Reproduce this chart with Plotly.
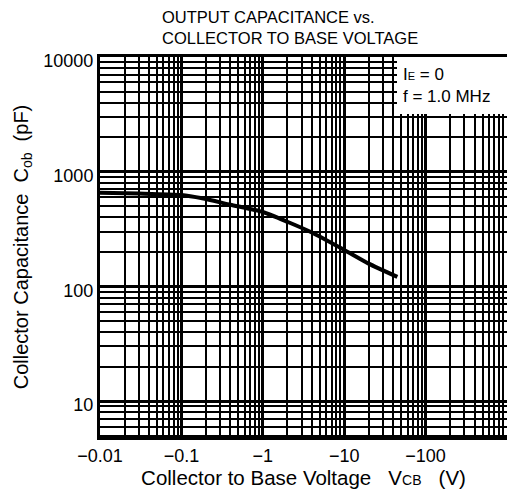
import plotly.graph_objects as go

# Data (magnitude of V_CB in volts; shown as negative values on the axis)
vcb = [0.01, 0.03, 0.1, 0.18, 0.4, 1, 2, 4, 10, 20, 45]
cob_pf = [655, 645, 626, 586, 515, 445, 366, 295, 208, 158, 121]

x_tickvals = [0.01, 0.1, 1, 10, 100]
x_ticktext = ["\u22120.01", "\u22120.1", "\u22121", "\u221210", "\u2212100"]
y_tickvals = [10, 100, 1000, 10000]
y_ticktext = ["10", "100", "1000", "10000"]

x_minor = [m * 10 ** e for e in range(-2, 4) for m in range(2, 10)]
y_minor = [m * 10 ** e for e in range(0, 4) for m in range(2, 10)]

FONT = "Liberation Sans, Arial, sans-serif"

fig = go.Figure()
fig.add_trace(go.Scatter(
    x=vcb, y=cob_pf, mode="lines",
    line=dict(color="black", width=4, shape="spline", smoothing=0.6),
    showlegend=False, hoverinfo="skip",
))

fig.update_layout(
    width=507, height=493,
    margin=dict(l=100, r=0, t=57, b=56),
    paper_bgcolor="white", plot_bgcolor="white",
    font=dict(family=FONT, color="black"),
    title=dict(
        text="OUTPUT CAPACITANCE vs.<br>COLLECTOR TO BASE VOLTAGE",
        x=162 / 507, xanchor="left", xref="container",
        y=1 - 23 / 493, yanchor="middle", yref="container",
        font=dict(size=16.5, family=FONT, color="black"),
    ),
    xaxis=dict(
        type="log", range=[-2.0, 3.0],
        tickmode="array", tickvals=x_tickvals, ticktext=x_ticktext,
        tickfont=dict(size=18, family=FONT, color="black"),
        showgrid=True, gridcolor="black", gridwidth=3,
        minor=dict(tickmode="array", tickvals=x_minor, showgrid=True,
                   gridcolor="black", gridwidth=2, ticks=""),
        showline=True, linecolor="black", linewidth=3, mirror=True,
        ticks="", zeroline=False,
        title=dict(
            text="Collector to Base Voltage&nbsp;&nbsp;&nbsp;V<span style='font-size:14px'>CB</span>&nbsp;&nbsp;&nbsp;(V)",
            font=dict(size=20.5, family=FONT, color="black"), standoff=6,
        ),
    ),
    yaxis=dict(
        type="log", range=[0.687, 4],
        tickmode="array", tickvals=y_tickvals, ticktext=y_ticktext,
        tickfont=dict(size=18, family=FONT, color="black"),
        ticklabelshift=4,
        showgrid=True, gridcolor="black", gridwidth=3,
        minor=dict(tickmode="array", tickvals=y_minor, showgrid=True,
                   gridcolor="black", gridwidth=2, ticks=""),
        showline=True, linecolor="black", linewidth=3, mirror=False,
        ticks="", zeroline=False,
        title=dict(
            text="Collector Capacitance&nbsp;&nbsp;C<sub>ob</sub>&nbsp;&nbsp;(pF)",
            font=dict(size=20, family=FONT, color="black"), standoff=10,
        ),
    ),
)

# White condition box in the upper-right corner
fig.add_shape(type="rect", xref="paper", yref="paper",
              x0=(397 - 100) / 407, x1=1.0, y0=1 - (114 - 57) / 380, y1=1.0,
              fillcolor="white", line=dict(width=0), layer="above")
fig.add_annotation(
    xref="paper", yref="paper", x=(401 - 100) / 407, y=1 - (63 - 57) / 380,
    xanchor="left", yanchor="top", align="left", showarrow=False,
    text="I<span style='font-size:11px'>E</span> = 0<br>f = 1.0 MHz",
    font=dict(size=17, family=FONT, color="black"),
)

fig.write_html("out.html", config={"displayModeBar": False},
               post_script="document.body.style.margin='0';")
